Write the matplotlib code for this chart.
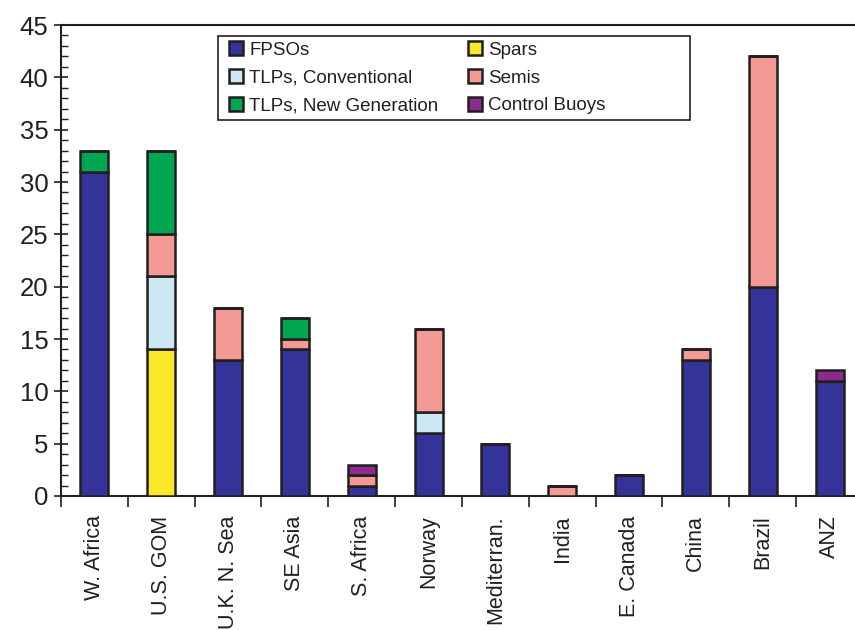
import numpy as np
import matplotlib
matplotlib.use("Agg")
import matplotlib.pyplot as plt
from matplotlib.patches import Rectangle
from matplotlib.ticker import MultipleLocator

plt.rcParams['font.family'] = ['Liberation Sans', 'DejaVu Sans']
plt.rcParams['text.color'] = "#231F20"
plt.rcParams['xtick.color'] = "#231F20"
plt.rcParams['ytick.color'] = "#231F20"

regions = ["W. Africa", "U.S. GOM", "U.K. N. Sea", "SE Asia", "S. Africa", "Norway",
           "Mediterran.", "India", "E. Canada", "China", "Brazil", "ANZ"]

# counts per region, stacked bottom to top in this order
fpsos        = [31, 0, 13, 14, 1, 6, 5, 0, 2, 13, 20, 11]
spars        = [0, 14, 0, 0, 0, 0, 0, 0, 0, 0, 0, 0]
tlps_conv    = [0, 7, 0, 0, 0, 2, 0, 0, 0, 0, 0, 0]
semis        = [0, 4, 5, 1, 1, 8, 0, 1, 0, 1, 22, 0]
tlps_newgen  = [2, 8, 0, 2, 0, 0, 0, 0, 0, 0, 0, 0]
control_buoy = [0, 0, 0, 0, 1, 0, 0, 0, 0, 0, 0, 1]

series = [
    ("FPSOs", fpsos, "#333399"),
    ("Spars", spars, "#FBE828"),
    ("TLPs, Conventional", tlps_conv, "#CCE8F4"),
    ("Semis", semis, "#F29A93"),
    ("TLPs, New Generation", tlps_newgen, "#00A651"),
    ("Control Buoys", control_buoy, "#8C2A8E"),
]

fig = plt.figure(figsize=(8.55, 6.3), dpi=100)
ax = fig.add_axes([0.0713, 0.2127, 0.938, 0.7476])

x = np.arange(len(regions))
bottom = np.zeros(len(regions))
handles = {}
for name, vals, col in series:
    vals = np.array(vals, dtype=float)
    b = ax.bar(x, vals, 0.42, bottom=bottom, color=col, edgecolor="#231F20",
               linewidth=1.8, label=name, zorder=3)
    handles[name] = b
    bottom += vals

ax.set_xlim(-0.5, len(regions) - 0.5)
ax.set_ylim(0, 45)
ax.yaxis.set_major_locator(MultipleLocator(5))
ax.yaxis.set_minor_locator(MultipleLocator(1))
ax.tick_params(axis="y", which="major", direction="inout", length=10, width=1.2,
               labelsize=18.5, pad=4)
ax.tick_params(axis="y", which="minor", direction="in", length=5, width=1.0)

ax.set_xticks(x)
ax.set_xticklabels(regions, rotation=90, fontsize=15.5, va="top")
ax.tick_params(axis="x", which="major", length=0, pad=14)
ax.set_xticks(np.arange(-0.5, len(regions), 1.0), minor=True)
ax.tick_params(axis="x", which="minor", direction="out", length=8, width=1.2)

for s in ax.spines.values():
    s.set_linewidth(1.5)
    s.set_color("#231F20")
ax.spines["right"].set_visible(False)

# legend box drawn separately so the columns keep their natural spacing
ax.add_patch(Rectangle((0.196, 0.798), 0.588, 0.179, transform=ax.transAxes,
                       facecolor="white", edgecolor="#231F20", linewidth=1.2,
                       zorder=4))
order = ["FPSOs", "TLPs, Conventional", "TLPs, New Generation",
         "Spars", "Semis", "Control Buoys"]
leg = ax.legend([handles[n] for n in order], order, ncol=2, fontsize=13.5,
                loc="upper left", bbox_to_anchor=(0.203, 0.977),
                frameon=False, handlelength=0.75, handleheight=0.75,
                handletextpad=0.3, borderpad=0.3, labelspacing=0.55,
                columnspacing=1.6, borderaxespad=0.0)
leg.set_zorder(5)

fig.savefig("out.png", dpi=100)
